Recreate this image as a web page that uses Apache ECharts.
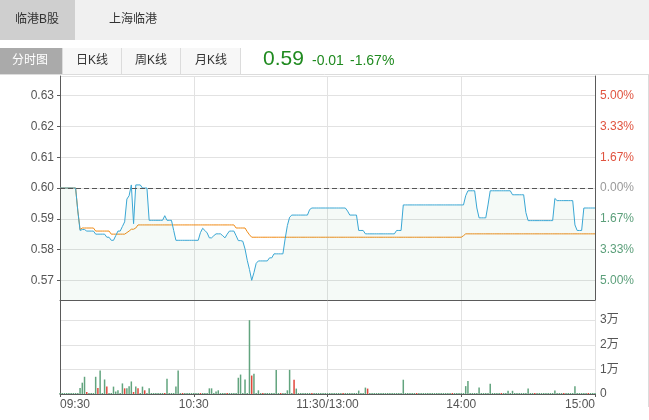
<!DOCTYPE html>
<html><head><meta charset="utf-8">
<script src="https://cdn.jsdelivr.net/npm/echarts@6/dist/echarts.min.js"></script>
<style>html,body{margin:0;padding:0;background:#fff}#c{width:649px;height:420px}</style>
</head><body><div id="c"></div>
<script>
const timeLabels = ['09:30', '10:30', '11:30/13:00', '14:00', '15:00'];
const prevClose = 0.60;
const lastPrice = '0.59';
const change = '-0.01';
const changePct = '-1.67%';
const topTabs = ['临港B股', '上海临港'];
const chartTabs = ['分时图', '日K线', '周K线', '月K线'];

// minute prices 09:30 .. 15:00 (241 points)
const price = [
  0.600,0.600,0.600,0.600,0.600,0.600,0.600,0.600,0.5925,0.5862,
  0.5865,0.5865,0.586,0.586,0.586,0.586,0.585,0.585,0.585,0.585,
  0.585,0.584,0.584,0.583,0.583,0.5845,0.586,0.586,0.5875,0.589,
  0.5964,0.5975,0.601,0.5884,0.601,0.601,0.601,0.600,0.600,0.600,
  0.5895,0.5895,0.5895,0.5895,0.5895,0.5895,0.5895,0.591,0.5895,0.5895,
  0.5895,0.5862,0.583,0.583,0.583,0.583,0.583,0.583,0.583,0.583,
  0.583,0.583,0.583,0.5855,0.5869,0.5862,0.5854,0.5838,0.5838,0.5845,
  0.5851,0.5851,0.5851,0.5845,0.5838,0.585,0.586,0.586,0.586,0.5845,
  0.5829,0.5829,0.5827,0.5802,0.5765,0.5735,0.570,0.5725,0.5755,0.5763,
  0.5763,0.5763,0.5763,0.5763,0.5773,0.5773,0.5786,0.5786,0.5786,0.5786,
  0.5786,0.5835,0.5878,0.5905,0.5912,0.5912,0.5912,0.5912,0.5912,0.5912,
  0.5912,0.5912,0.593,0.5935,0.5935,0.5935,0.5935,0.5935,0.5935,0.5935,
  0.5935,0.5935,0.5935,0.5935,0.5935,0.5935,0.5935,0.5935,0.5935,0.5925,
  0.5912,0.5912,0.5912,0.5912,0.5862,0.5862,0.5862,0.5851,0.5851,0.5851,
  0.5851,0.5851,0.5851,0.5851,0.5851,0.5851,0.5851,0.5851,0.5851,0.5851,
  0.5851,0.5862,0.5862,0.5862,0.5945,0.5945,0.5945,0.5945,0.5945,0.5945,
  0.5945,0.5945,0.5945,0.5945,0.5945,0.5945,0.5945,0.5945,0.5945,0.5945,
  0.5945,0.5945,0.5945,0.5945,0.5945,0.5945,0.5945,0.5945,0.5945,0.5945,
  0.5945,0.5945,0.5975,0.5991,0.5991,0.5991,0.5991,0.5935,0.5903,0.5903,
  0.5903,0.5903,0.5945,0.5991,0.5991,0.5991,0.5991,0.5991,0.5991,0.5991,
  0.5991,0.5991,0.5991,0.5978,0.5978,0.5978,0.5978,0.5978,0.5978,0.592,
  0.5894,0.5894,0.5894,0.5894,0.5894,0.5894,0.5894,0.5894,0.5894,0.5894,
  0.5894,0.5894,0.5966,0.5959,0.5959,0.5959,0.5959,0.5959,0.5959,0.5959,
  0.5959,0.588,0.5862,0.5862,0.5862,0.5935,0.5935,0.5935,0.5935,0.5935,
  0.5935
];

// average price line
const avgPrice = [
  0.600,0.600,0.600,0.600,0.600,0.600,0.600,0.600,0.5925,0.5865,
  0.587,0.587,0.587,0.587,0.587,0.587,0.586,0.586,0.586,0.586,
  0.586,0.586,0.586,0.585,0.585,0.585,0.585,0.585,0.585,0.585,
  0.5855,0.586,0.5866,0.5866,0.587,0.588,0.588,0.588,0.588,0.588,
  0.588,0.588,0.588,0.588,0.588,0.588,0.588,0.588,0.588,0.588,
  0.588,0.588,0.588,0.588,0.588,0.588,0.588,0.588,0.588,0.588,
  0.588,0.588,0.588,0.588,0.588,0.588,0.588,0.588,0.588,0.588,
  0.588,0.588,0.588,0.588,0.588,0.588,0.588,0.588,0.588,0.587,
  0.587,0.587,0.587,0.587,0.5858,0.5848,0.584,0.584,0.584,0.584,
  0.584,0.584,0.584,0.584,0.584,0.584,0.584,0.584,0.584,0.584,
  0.584,0.584,0.584,0.584,0.584,0.584,0.584,0.584,0.584,0.584,
  0.584,0.584,0.584,0.584,0.584,0.584,0.584,0.584,0.584,0.584,
  0.584,0.584,0.584,0.584,0.584,0.584,0.584,0.584,0.584,0.584,
  0.584,0.584,0.584,0.584,0.584,0.584,0.584,0.584,0.584,0.584,
  0.584,0.584,0.584,0.584,0.584,0.584,0.584,0.584,0.584,0.584,
  0.584,0.584,0.584,0.584,0.584,0.584,0.584,0.584,0.584,0.584,
  0.584,0.584,0.584,0.584,0.584,0.584,0.584,0.584,0.584,0.584,
  0.584,0.584,0.584,0.584,0.584,0.584,0.584,0.584,0.584,0.584,
  0.584,0.5845,0.5851,0.5851,0.5851,0.5851,0.5851,0.5851,0.5851,0.5851,
  0.5851,0.5851,0.5851,0.5851,0.5851,0.5851,0.5851,0.5851,0.5851,0.5851,
  0.5851,0.5851,0.5851,0.5851,0.5851,0.5851,0.5851,0.5851,0.5851,0.5851,
  0.5851,0.5851,0.5851,0.5851,0.5851,0.5851,0.5851,0.5851,0.5851,0.5851,
  0.5851,0.5851,0.5851,0.5851,0.5851,0.5851,0.5851,0.5851,0.5851,0.5851,
  0.5851,0.5851,0.5851,0.5851,0.5851,0.5851,0.5851,0.5851,0.5851,0.5851,
  0.5851
];

// minute volume (shares)
const volume = [
  300,300,300,300,300,300,300,300,300,2400,
  4600,7000,800,300,300,300,7000,2400,9500,300,
  5900,3000,300,300,3000,1000,1500,300,4300,2300,
  2300,3100,5100,800,3000,2300,300,3000,1500,300,
  2300,300,300,300,300,300,300,300,6200,300,
  300,300,3000,9500,300,300,300,300,300,300,
  300,300,300,300,300,300,300,2300,2300,300,
  1000,1500,300,300,300,300,300,300,300,300,
  6600,7900,300,5900,300,30000,7500,8200,300,1500,
  300,300,300,300,300,300,300,9800,300,300,
  300,300,1500,9800,300,5800,2200,300,300,300,
  300,300,300,300,300,300,300,300,300,300,
  300,300,300,300,300,300,300,300,300,300,
  300,300,300,300,1400,300,300,2600,2200,300,
  300,300,300,300,300,300,300,300,300,300,
  300,300,300,300,5800,300,300,300,300,300,
  300,300,300,300,300,300,300,300,300,300,
  300,300,300,300,300,300,300,300,300,300,
  300,300,3200,5300,300,300,300,300,2600,300,
  300,300,300,4200,300,300,300,300,300,300,
  300,1300,300,1300,300,300,300,300,300,300,
  2200,300,300,300,300,300,300,300,300,300,
  300,300,1400,300,300,300,300,300,300,300,
  300,3200,300,300,300,300,300,300,300,300,
  300
];
// minutes whose volume bar is red
const redBars = [12,17,21,29,33,35,38,47,55,63,75,86,91,99,105,113,127,138,160,176,198,213,226,237];

const FONT = '"Liberation Sans", "Noto Sans CJK SC", sans-serif';
const AXIS_DARK = '#5a5a5a';
const GRID_LIGHT = '#e2e2e2';
const UP = '#e0533f', DOWN = '#5b9f7a', FLAT = '#9a9a9a';
const VOL_G = '#62a47e', VOL_R = '#e2473b';

const isCent = v => Math.abs(v * 100 - Math.round(v * 100)) < 0.01;

const chart = echarts.init(document.getElementById('c'), null, {renderer: 'canvas'});

const graphics = [
  {type: 'rect', shape: {x: 0, y: 0, width: 649, height: 40}, style: {fill: '#f0f0f0'}, silent: true},
  {type: 'rect', shape: {x: 0, y: 0, width: 75, height: 40}, style: {fill: '#cfcfcf'}, silent: true},
  {type: 'text', style: {text: topTabs[0], x: 37, y: 20, font: '12px ' + FONT, fill: '#333', textAlign: 'center', textVerticalAlign: 'middle', align: 'center', verticalAlign: 'middle'}},
  {type: 'text', style: {text: topTabs[1], x: 133, y: 20, font: '12px ' + FONT, fill: '#333', textAlign: 'center', textVerticalAlign: 'middle', align: 'center', verticalAlign: 'middle'}},
  {type: 'rect', shape: {x: 62, y: 48, width: 178, height: 26}, style: {fill: '#f7f7f7'}, silent: true},
  {type: 'rect', shape: {x: 0, y: 48, width: 62, height: 26}, style: {fill: '#aaaaaa'}, silent: true},
  {type: 'line', shape: {x1: 62.5, y1: 48, x2: 62.5, y2: 74}, style: {stroke: '#dcdcdc', lineWidth: 1}},
  {type: 'line', shape: {x1: 121.5, y1: 48, x2: 121.5, y2: 74}, style: {stroke: '#dcdcdc', lineWidth: 1}},
  {type: 'line', shape: {x1: 180.5, y1: 48, x2: 180.5, y2: 74}, style: {stroke: '#dcdcdc', lineWidth: 1}},
  {type: 'line', shape: {x1: 240.5, y1: 48, x2: 240.5, y2: 74}, style: {stroke: '#dcdcdc', lineWidth: 1}},
  {type: 'line', shape: {x1: 0, y1: 74.5, x2: 649, y2: 74.5}, style: {stroke: '#dcdcdc', lineWidth: 1}},
  {type: 'line', shape: {x1: 648.5, y1: 74.5, x2: 648.5, y2: 407}, style: {stroke: '#dcdcdc', lineWidth: 1}},
  {type: 'text', style: {text: chartTabs[0], x: 30, y: 61, font: '12px ' + FONT, fill: '#fff', textAlign: 'center', textVerticalAlign: 'middle', align: 'center', verticalAlign: 'middle'}},
  {type: 'text', style: {text: chartTabs[1], x: 92, y: 61, font: '12px ' + FONT, fill: '#333', textAlign: 'center', textVerticalAlign: 'middle', align: 'center', verticalAlign: 'middle'}},
  {type: 'text', style: {text: chartTabs[2], x: 151, y: 61, font: '12px ' + FONT, fill: '#333', textAlign: 'center', textVerticalAlign: 'middle', align: 'center', verticalAlign: 'middle'}},
  {type: 'text', style: {text: chartTabs[3], x: 211, y: 61, font: '12px ' + FONT, fill: '#333', textAlign: 'center', textVerticalAlign: 'middle', align: 'center', verticalAlign: 'middle'}},
  {type: 'text', style: {text: lastPrice, x: 263, y: 70, font: '21px ' + FONT, fill: '#1f8a1f', textAlign: 'left', textVerticalAlign: 'bottom', align: 'left', verticalAlign: 'bottom'}},
  {type: 'text', style: {text: change, x: 312, y: 68.5, font: '14px ' + FONT, fill: '#1f8a1f', textAlign: 'left', textVerticalAlign: 'bottom', align: 'left', verticalAlign: 'bottom'}},
  {type: 'text', style: {text: changePct, x: 350, y: 68.5, font: '14px ' + FONT, fill: '#1f8a1f', textAlign: 'left', textVerticalAlign: 'bottom', align: 'left', verticalAlign: 'bottom'}}
];

const idx = price.map((_, i) => i);

const option = {
  animation: false,
  backgroundColor: '#fff',
  textStyle: {fontFamily: FONT},
  graphic: graphics,
  grid: [
    {left: 60, right: 54, top: 76, height: 224},
    {left: 60, right: 54, top: 300, height: 94}
  ],
  xAxis: [
    {
      type: 'value', gridIndex: 0, min: 0, max: 240, interval: 60,
      axisLine: {show: true, onZero: false, lineStyle: {color: AXIS_DARK}},
      axisTick: {show: false}, axisLabel: {show: false},
      splitLine: {show: true, lineStyle: {color: GRID_LIGHT}}
    },
    {
      type: 'value', gridIndex: 1, min: 0, max: 240, interval: 60,
      axisLine: {show: true, onZero: false, lineStyle: {color: AXIS_DARK}},
      axisTick: {show: true, length: 3, lineStyle: {color: AXIS_DARK}},
      axisLabel: {
        show: true, margin: 5, color: '#555', fontSize: 12, fontFamily: FONT,
        formatter: v => timeLabels[Math.round(v / 60)] || '',
        alignMinLabel: 'left', alignMaxLabel: 'right'
      },
      splitLine: {show: true, lineStyle: {color: GRID_LIGHT}}
    }
  ],
  yAxis: [
    {
      type: 'value', gridIndex: 0, position: 'left', min: 0.5636, max: 0.6364, splitNumber: 7, scale: true,
      axisLine: {show: true, lineStyle: {color: AXIS_DARK}},
      axisTick: {show: true, length: 3, lineStyle: {color: AXIS_DARK}},
      axisLabel: {
        margin: 6, color: '#555', fontSize: 12, fontFamily: FONT,
        showMinLabel: false, showMaxLabel: false,
        formatter: v => isCent(v) ? v.toFixed(2) : ''
      },
      splitLine: {show: true, lineStyle: {color: GRID_LIGHT}}
    },
    {
      type: 'value', gridIndex: 0, position: 'right', min: 0.5636, max: 0.6364, splitNumber: 7, scale: true,
      axisLine: {show: true, lineStyle: {color: AXIS_DARK}},
      axisTick: {show: false},
      axisLabel: {
        margin: 5, fontSize: 12, fontFamily: FONT,
        showMinLabel: false, showMaxLabel: false,
        formatter: v => {
          if (!isCent(v)) return '';
          const p = Math.abs((Math.round(v * 100) / 100 - prevClose) / prevClose * 100);
          return p.toFixed(2) + '%';
        },
        color: (v) => {
          const d = Math.round(parseFloat(v) * 100) - Math.round(prevClose * 100);
          return d > 0 ? UP : (d < 0 ? DOWN : FLAT);
        }
      },
      splitLine: {show: false}
    },
    {
      type: 'value', gridIndex: 1, position: 'right', min: 0, max: 38200, interval: 10000,
      axisLine: {show: true, lineStyle: {color: AXIS_DARK}},
      axisTick: {show: false},
      axisLabel: {
        margin: 5, color: '#555', fontSize: 12, fontFamily: FONT, showMaxLabel: false,
        formatter: v => v === 0 ? '0' : (v % 10000 === 0 ? (v / 10000) + '万' : '')
      },
      splitLine: {show: true, lineStyle: {color: GRID_LIGHT}}
    },
    {
      type: 'value', gridIndex: 1, position: 'left', min: 0, max: 38200, interval: 10000,
      axisLine: {show: true, lineStyle: {color: AXIS_DARK}},
      axisTick: {show: false}, axisLabel: {show: false}, splitLine: {show: false}
    }
  ],
  series: [
    {
      name: 'price', type: 'line', xAxisIndex: 0, yAxisIndex: 0,
      data: idx.map(i => [i, price[i]]),
      showSymbol: false, symbol: 'none',
      lineStyle: {color: '#3aa7d4', width: 1},
      itemStyle: {color: '#3aa7d4'},
      areaStyle: {color: 'rgba(100,180,125,0.09)', origin: 'start'},
      z: 3,
      markLine: {
        silent: true, symbol: 'none', label: {show: false},
        lineStyle: {color: '#555', type: [5, 3], width: 1},
        data: [{yAxis: prevClose}]
      }
    },
    {
      name: 'avg', type: 'line', xAxisIndex: 0, yAxisIndex: 0,
      data: idx.map(i => [i, avgPrice[i]]),
      showSymbol: false, symbol: 'none',
      lineStyle: {color: '#f08a14', width: 1},
      itemStyle: {color: '#f08a14'},
      z: 2
    },
    {
      name: 'vol', type: 'bar', xAxisIndex: 1, yAxisIndex: 2,
      barWidth: 1.5, barMinHeight: 1,
      data: idx.map(i => ({value: [i, volume[i]], itemStyle: {color: redBars.includes(i) ? VOL_R : VOL_G}})),
      z: 3
    }
  ]
};
chart.setOption(option);
</script>
</body></html>
